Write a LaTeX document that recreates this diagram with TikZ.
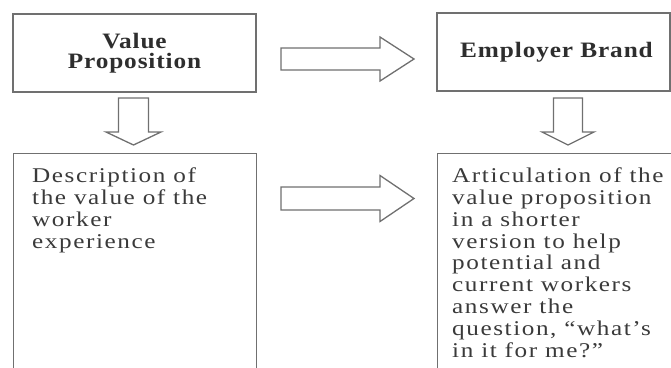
\documentclass[tikz,border=0pt]{standalone}
\usepackage{fontspec}
\setmainfont{Liberation Serif}
\newfontfamily\bodyfont[FakeStretch=1.2, LetterSpace=7.5]{Liberation Serif}
\newfontfamily\headfont[FakeStretch=1.15, LetterSpace=4]{Liberation Serif}
\usetikzlibrary{positioning,calc}
\definecolor{linegray}{RGB}{112,112,112}
\definecolor{inkgray}{RGB}{58,58,58}

% hollow block arrows: start, neck, tip, centre, half shaft, half head
\newcommand{\blkright}[6]{%
  \draw[blk] ({#1},{#4-#5}) -- ({#2},{#4-#5}) -- ({#2},{#4-#6}) -- ({#3},{#4})
    -- ({#2},{#4+#6}) -- ({#2},{#4+#5}) -- ({#1},{#4+#5}) -- cycle;}
\newcommand{\blkdown}[6]{%
  \draw[blk] ({#4-#5},{#1}) -- ({#4-#5},{#2}) -- ({#4-#6},{#2}) -- ({#4},{#3})
    -- ({#4+#6},{#2}) -- ({#4+#5},{#2}) -- ({#4+#5},{#1}) -- cycle;}

\begin{document}
\begin{tikzpicture}[
  x=1pt, y=-1pt,
  box/.style={draw=linegray, line width=1.3pt, inner sep=0pt},
  head/.style={box, align=center, text=inkgray!80!black,
               font=\headfont\bfseries\fontsize{22}{20}\selectfont},
  body/.style={align=left, text=inkgray, inner sep=0pt, anchor=north west,
               font=\bodyfont\fontsize{21}{21.8}\selectfont},
  blk/.style={draw=linegray, line width=1.3pt, fill=white, line join=miter}
]
\useasboundingbox (0,0) rectangle (671,367);

%% ── Top row ──
\node[head, minimum width=243pt, minimum height=78pt] (vp) at (134.5,53)
  {Value\\Proposition};
\node[head, minimum width=233pt, minimum height=78pt] (eb) at (553.5,52)
  {\hspace*{6pt}Employer Brand};

%% ── Bottom row (boxes run off the page) ──
\node[box, anchor=north west, minimum width=243pt, minimum height=230pt]
  (desc) at (13,153) {};
\node[box, anchor=north west, minimum width=253pt, minimum height=230pt]
  (art) at (437,153) {};

\node[body] (descTxt) at ([xshift=19pt, yshift=-14.7pt]desc.north west)
  {Description of\\the value of the\\worker\\experience};
\node[body] (artTxt) at ([xshift=15pt, yshift=-14.7pt]art.north west)
  {Articulation of the\\value proposition\\in a shorter\\version to help\\
   potential and\\current workers\\answer the\\question, “what’s\\in it for me?”};

%% ── Block arrows ──
\blkright{281}{380}{414}{59}{11}{22}      % vp -> eb
\blkright{281}{380}{414}{198.5}{11.5}{23} % desc -> art
\blkdown{98}{132}{145}{133.5}{15}{27.5}   % vp -> desc
\blkdown{98}{132}{145}{568}{14.5}{26}     % eb -> art

\end{tikzpicture}
\end{document}
